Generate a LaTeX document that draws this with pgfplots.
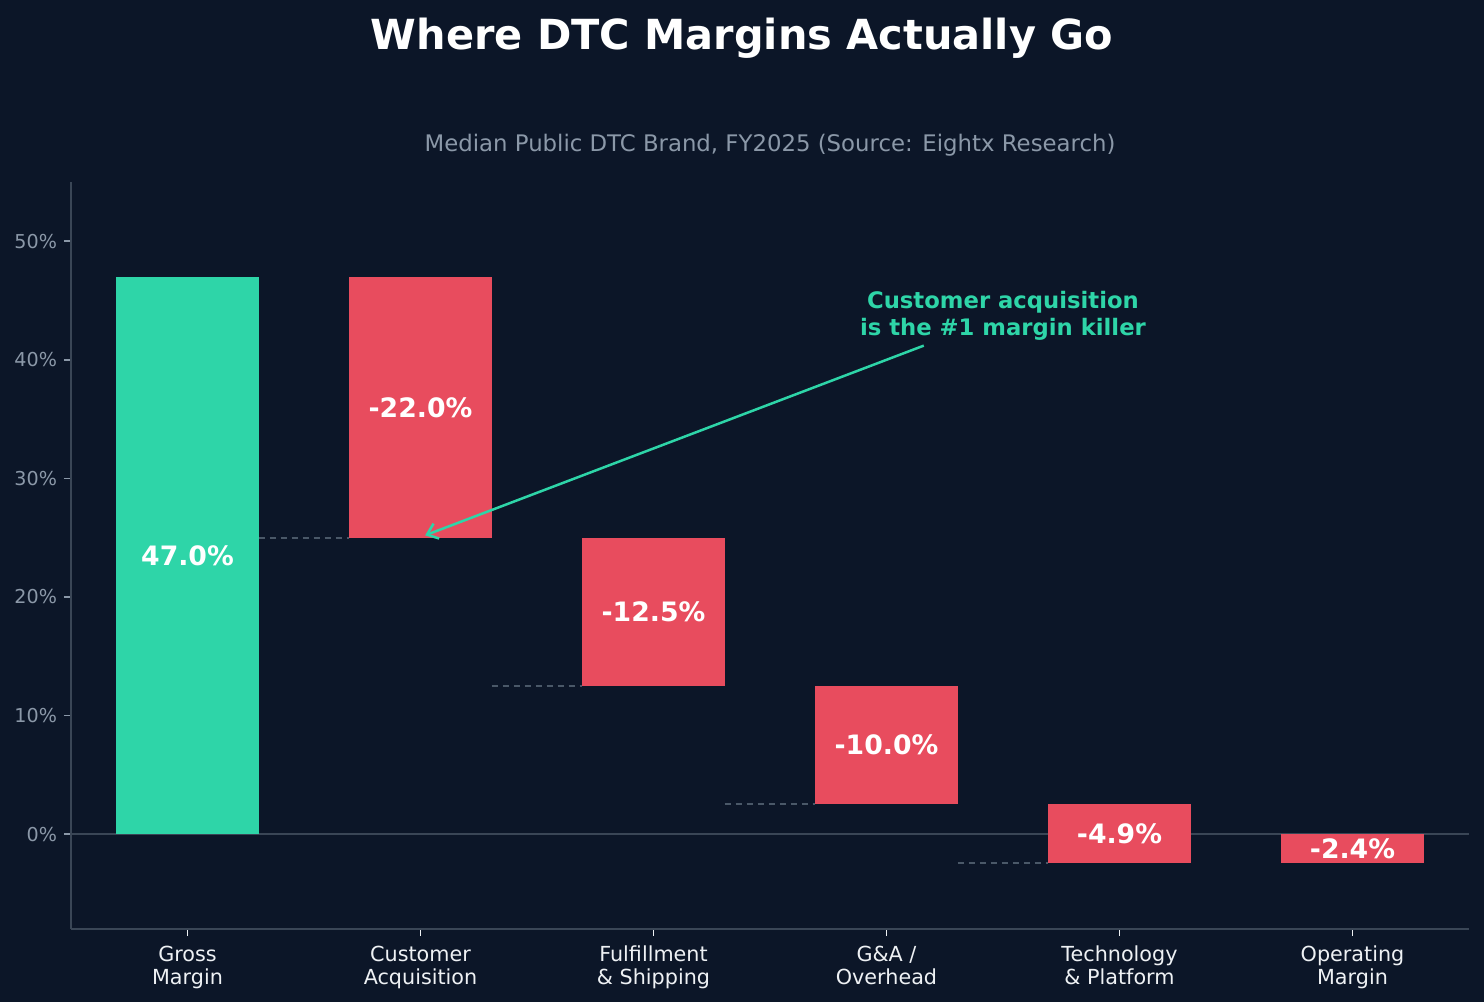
\documentclass[border=0pt]{standalone}
\usepackage{pgfplots}
\pgfplotsset{compat=1.18}
\usepackage{fontspec}
\setmainfont{DejaVu Sans}
\usetikzlibrary{arrows.meta}
\definecolor{bg}{HTML}{0C1628}
\definecolor{posg}{HTML}{2ED5A8}
\definecolor{negr}{HTML}{E84C5E}
\definecolor{spine}{HTML}{3A4656}
\definecolor{ticklab}{HTML}{8B98A8}
\definecolor{dashc}{HTML}{4A5868}
\definecolor{catlab}{HTML}{EEF1F4}
\begin{document}
\begin{tikzpicture}
\fill[bg] (0,0) rectangle (742bp,501bp);
\node[anchor=base, text=white, font=\fontsize{20.8}{24}\selectfont\bfseries] at (371bp,476bp) {Where DTC Margins Actually Go};
\node[anchor=base, text=ticklab, font=\fontsize{11.45}{14}\selectfont] at (385bp,425.2bp) {Median Public DTC Brand, FY2025 (Source: Eightx Research)};
\begin{axis}[
  at={(35.5bp,36.5bp)}, anchor=south west,
  width=699bp, height=373.5bp, scale only axis,
  xmin=-0.5, xmax=5.5, ymin=-8, ymax=55,
  axis x line*=bottom, axis y line*=left,
  axis line style={spine, line width=0.83bp},
  xtick={0,1,2,3,4,5},
  xticklabels={{Gross\\Margin},{Customer\\Acquisition},{Fulfillment\\\& Shipping},{G\&A /\\Overhead},{Technology\\\& Platform},{Operating\\Margin}},
  xticklabel style={align=center, text=catlab, font=\fontsize{10.4}{11.5}\selectfont, yshift=-1.5bp},
  ytick={0,10,20,30,40,50},
  yticklabel={\pgfmathprintnumber{\tick}\%},
  yticklabel style={text=ticklab, font=\fontsize{9.6}{11}\selectfont},
  /pgf/number format/assume math mode=true,
  tick align=outside,
  major tick length=3.5bp,
  xtick style={catlab, line width=0.83bp},
  ytick style={ticklab, line width=0.83bp},
  clip=false,
]
% zero line
\addplot[spine, line width=0.83bp] coordinates {(-0.5,0) (5.5,0)};
% connectors
\addplot[dashc, line width=1bp, dash pattern=on 3.3bp off 2.2bp] coordinates {(0.305,25) (0.695,25)};
\addplot[dashc, line width=1bp, dash pattern=on 3.3bp off 2.2bp] coordinates {(1.305,12.5) (1.695,12.5)};
\addplot[dashc, line width=1bp, dash pattern=on 3.3bp off 2.2bp] coordinates {(2.305,2.5) (2.695,2.5)};
\addplot[dashc, line width=1bp, dash pattern=on 3.3bp off 2.2bp] coordinates {(3.305,-2.4) (3.695,-2.4)};
% bars
\addplot[fill=posg, draw=none] coordinates {(-0.305,0) (0.305,0) (0.305,47) (-0.305,47)} -- cycle;
\addplot[fill=negr, draw=none] coordinates {(0.695,25) (1.305,25) (1.305,47) (0.695,47)} -- cycle;
\addplot[fill=negr, draw=none] coordinates {(1.695,12.5) (2.305,12.5) (2.305,25) (1.695,25)} -- cycle;
\addplot[fill=negr, draw=none] coordinates {(2.695,2.5) (3.305,2.5) (3.305,12.5) (2.695,12.5)} -- cycle;
\addplot[fill=negr, draw=none] coordinates {(3.695,-2.4) (4.305,-2.4) (4.305,2.5) (3.695,2.5)} -- cycle;
\addplot[fill=negr, draw=none] coordinates {(4.695,-2.4) (5.305,-2.4) (5.305,0) (4.695,0)} -- cycle;
% labels
\node[text=white, font=\fontsize{13.4}{15}\selectfont\bfseries] at (axis cs:0,23.5) {47.0\%};
\node[text=white, font=\fontsize{13.4}{15}\selectfont\bfseries] at (axis cs:1,36) {-22.0\%};
\node[text=white, font=\fontsize{13.4}{15}\selectfont\bfseries] at (axis cs:2,18.75) {-12.5\%};
\node[text=white, font=\fontsize{13.4}{15}\selectfont\bfseries] at (axis cs:3,7.5) {-10.0\%};
\node[text=white, font=\fontsize{13.4}{15}\selectfont\bfseries] at (axis cs:4,0.05) {-4.9\%};
\node[text=white, font=\fontsize{13.4}{15}\selectfont\bfseries] at (axis cs:5,-1.2) {-2.4\%};
% annotation
\node[anchor=base, text=posg, font=\fontsize{11.4}{13}\selectfont\bfseries] at (axis cs:3.5,44.32) {Customer acquisition};
\node[anchor=base, text=posg, font=\fontsize{11.4}{13}\selectfont\bfseries] at (axis cs:3.5,42.09) {is the \#1 margin killer};
\draw[posg, line width=1.25bp, -{Straight Barb[length=5bp,width=8bp]}] (axis cs:3.16,41.2) -- (axis cs:1.02,25.2);
\end{axis}
\end{tikzpicture}
\end{document}
